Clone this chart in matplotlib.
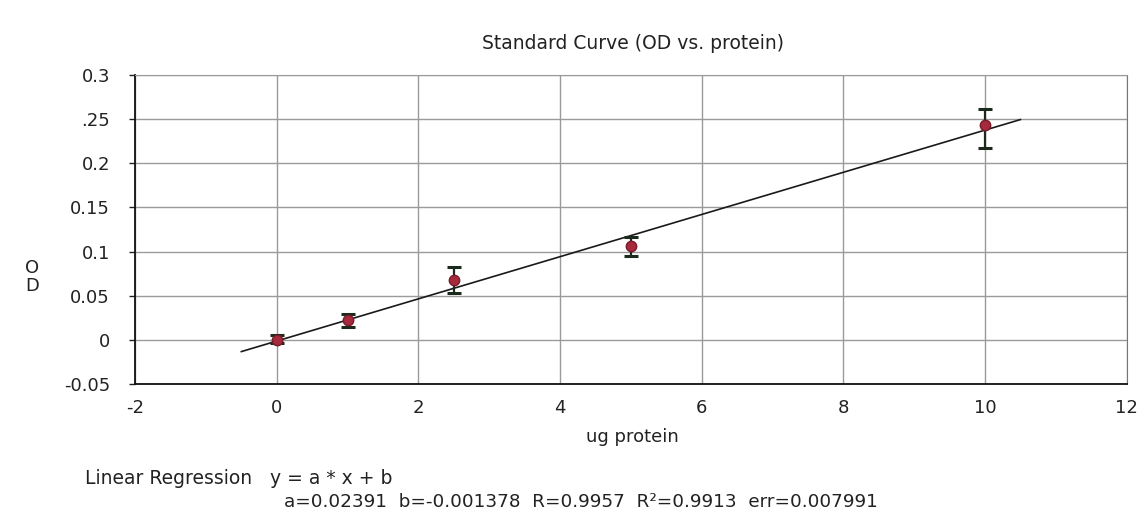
import matplotlib
matplotlib.use("Agg")
import matplotlib.pyplot as plt
import numpy as np

# Standards: protein amount (ug) and measured optical density
protein_ug = [0, 1, 2.5, 5, 10]
od_mean = [0.0, 0.023, 0.068, 0.106, 0.243]
od_high = [0.005, 0.029, 0.083, 0.116, 0.262]
od_low = [-0.004, 0.015, 0.053, 0.095, 0.218]

# Linear regression result
slope = 0.02391
intercept = -0.001378
fit_range = [-0.5, 10.5]

x_ticks = [-2, 0, 2, 4, 6, 8, 10, 12]
y_ticks = [-0.05, 0, 0.05, 0.1, 0.15, 0.2, 0.25, 0.3]
y_tick_labels = ["-0.05", "0", "0.05", "0.1", "0.15", "0.2", ".25", "0.3"]

plt.rcParams['font.family'] = ['DejaVu Sans']
plt.rcParams['axes.unicode_minus'] = False

fig = plt.figure(figsize=(11.45, 5.22), dpi=100)
ax = fig.add_axes([0.118, 0.2645, 0.866, 0.5915])

ax.set_xlim(-2, 12)
ax.set_ylim(-0.05, 0.3)
ax.set_xticks(x_ticks)
ax.set_yticks(y_ticks)
ax.set_yticklabels(y_tick_labels)
ax.grid(True, color="#9a9a9a", linewidth=1.0)
ax.set_axisbelow(True)
ax.tick_params(axis="y", direction="out", length=4, width=1, pad=14,
               labelsize=13, colors="#222222")
ax.tick_params(axis="x", length=0, pad=11, labelsize=13, colors="#222222")
ax.spines["top"].set_color("#9a9a9a")
ax.spines["right"].set_color("#777777")
for side in ("left", "bottom"):
    ax.spines[side].set_color("#111111")
    ax.spines[side].set_linewidth(1.3)

# Regression line
fx = np.array(fit_range)
ax.plot(fx, slope * fx + intercept, color="#1a1a1a", linewidth=1.2, zorder=3)

# Error bars and mean points
mean = np.array(od_mean)
yerr = [mean - np.array(od_low), np.array(od_high) - mean]
ax.errorbar(protein_ug, od_mean, yerr=yerr, fmt="none", ecolor="#1c2a1c",
            elinewidth=1.6, capsize=5, capthick=2.2, zorder=4)
ax.plot(protein_ug, od_mean, "o", color="#a52a3c", markersize=7.5,
        markeredgecolor="#7a1a2a", zorder=5)

fig.text(0.553, 0.917, "Standard Curve (OD vs. protein)", ha="center", va="center",
         fontsize=13.5, color="#222222")
fig.text(0.552, 0.163, "ug protein", ha="center", va="center", fontsize=13,
         color="#222222")
fig.text(0.028, 0.469, "O\nD", ha="center", va="center", fontsize=13,
         color="#222222", linespacing=1.0)

fig.text(0.074, 0.084, "Linear Regression", ha="left", va="center",
         fontsize=13.5, color="#222222")
fig.text(0.236, 0.084, "y = a * x + b", ha="left", va="center",
         fontsize=13.5, color="#222222")
fig.text(0.248, 0.038,
         "a=0.02391  b=-0.001378  R=0.9957  R\u00b2=0.9913  err=0.007991",
         ha="left", va="center", fontsize=13.2, color="#222222")

fig.savefig("out.png", dpi=100, facecolor="white")
